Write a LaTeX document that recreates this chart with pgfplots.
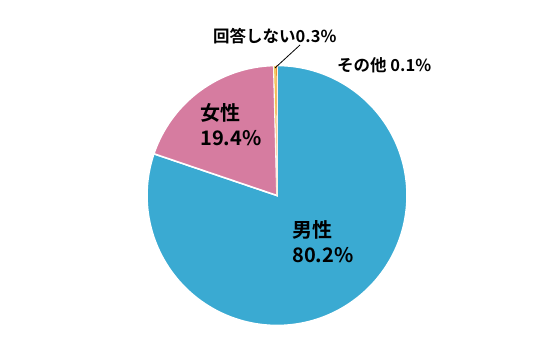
\documentclass[border=0pt]{standalone}
\usepackage{pgfplots}
\pgfplotsset{compat=1.18}
\usepackage{fontspec}
\setmainfont{Noto Sans CJK JP}[BoldFont={Noto Sans CJK JP Bold}]
\definecolor{pblue}{RGB}{58,170,210}
\definecolor{ppink}{RGB}{214,124,160}
\definecolor{pyellow}{RGB}{242,196,80}
\definecolor{porange}{RGB}{232,150,60}
% values (percent), clockwise from top
\def\vA{80.2}\def\vB{19.4}\def\vC{0.3}\def\vD{0.1}
\pgfmathsetmacro\aA{90}
\pgfmathsetmacro\aB{\aA-3.6*\vA}
\pgfmathsetmacro\aC{\aB-3.6*\vB}
\pgfmathsetmacro\aD{\aC-3.6*\vC}
\pgfmathsetmacro\aE{\aD-3.6*\vD}
\begin{document}
\begin{tikzpicture}
\begin{axis}[hide axis, scale only axis, x=1pt, y=1pt,
  xmin=0, xmax=555, ymin=0, ymax=355, clip=false]
\path (axis cs:0,0) rectangle (axis cs:555,355);
\fill[pblue, draw=white, line width=1.6pt] (axis cs:277,159.5) -- ([shift={(\aA:130pt)}]axis cs:277,159.5) arc[start angle=\aA, end angle=\aB, radius=130pt] -- cycle;
\fill[ppink, draw=white, line width=1.6pt] (axis cs:277,159.5) -- ([shift={(\aB:130pt)}]axis cs:277,159.5) arc[start angle=\aB, end angle=\aC, radius=130pt] -- cycle;
\fill[pyellow, draw=white, line width=0.6pt] (axis cs:277,159.5) -- ([shift={(\aC:130pt)}]axis cs:277,159.5) arc[start angle=\aC, end angle=\aD, radius=130pt] -- cycle;
\fill[porange] (axis cs:277,159.5) -- ([shift={(\aD:130pt)}]axis cs:277,159.5) arc[start angle=\aD, end angle=\aE, radius=130pt] -- cycle;
\draw[black, line width=0.8pt] (axis cs:300,310) -- (axis cs:275,287);
\node[anchor=base west, inner sep=0, font=\bfseries\fontsize{20}{24}\selectfont] at (axis cs:292,117) {男性};
\node[anchor=base west, inner sep=0, font=\bfseries\fontsize{20}{24}\selectfont] at (axis cs:292,92) {80.2\%};
\node[anchor=base west, inner sep=0, font=\bfseries\fontsize{20}{24}\selectfont] at (axis cs:200,234) {女性};
\node[anchor=base west, inner sep=0, font=\bfseries\fontsize{20}{24}\selectfont] at (axis cs:200,209) {19.4\%};
\node[anchor=base west, inner sep=0, font=\bfseries\fontsize{16.5}{19}\selectfont] at (axis cs:213,312) {回答しない0.3\%};
\node[anchor=base west, inner sep=0, font=\bfseries\fontsize{16.5}{19}\selectfont] at (axis cs:337,283) {その他 0.1\%};
\end{axis}
\end{tikzpicture}
\end{document}
